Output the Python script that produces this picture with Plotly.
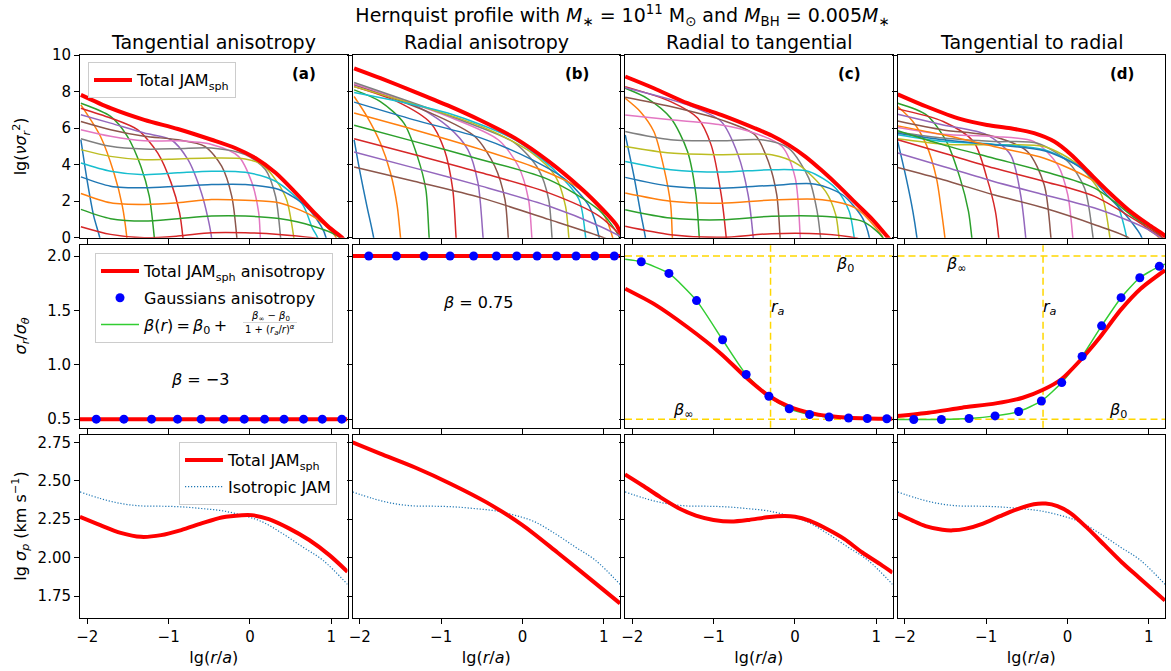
import plotly.graph_objects as go
from plotly.subplots import make_subplots

# ---------------- text ----------------
COL_TITLES = ["Tangential anisotropy", "Radial anisotropy",
              "Radial to tangential", "Tangential to radial"]
PANEL_TAGS = ["(a)", "(b)", "(c)", "(d)"]
MPL_CYCLE = ['#1f77b4', '#ff7f0e', '#2ca02c', '#d62728', '#9467bd',
             '#8c564b', '#e377c2', '#7f7f7f', '#bcbd22', '#17becf']

X_RANGE = [-2.09, 1.2]
X_TICKS = [-2, -1, 0, 1]
TOP_RANGE = [0, 10]
TOP_TICKS = [0, 2, 4, 6, 8, 10]
MID_RANGE = [0.42, 2.1]
MID_TICKS = [0.5, 1.0, 1.5, 2.0]
BOT_RANGE = [1.607, 2.795]
BOT_TICKS = [1.75, 2.0, 2.25, 2.5, 2.75]

# ---------------- top row: lg(nu sigma_r^2) of each Gaussian + total ----------------
A_COMP_X = [
    [-2.079, -2.004, -1.921, -1.847, -1.82],
    [-2.079, -1.839, -1.673, -1.569, -1.516, -1.50],
    [-2.079, -1.714, -1.507, -1.342, -1.238, -1.176, -1.16],
    [-2.079, -1.714, -1.383, -1.135, -0.969, -0.865, -0.824, -0.81],
    [-2.079, -1.714, -1.30, -0.969, -0.762, -0.596, -0.513, -0.472, -0.46],
    [-2.079, -1.714, -1.30, -0.886, -0.555, -0.348, -0.224, -0.161, -0.15],
    [-2.079, -1.714, -1.30, -0.886, -0.472, -0.141, 0.025, 0.108, 0.128, 0.14],
    [-2.079, -1.714, -1.30, -0.886, -0.472, -0.058, 0.19, 0.315, 0.377, 0.39],
    [-2.079, -1.714, -1.30, -0.886, -0.472, -0.058, 0.149, 0.315, 0.45, 0.54, 0.56],
    [-2.079, -1.714, -1.30, -0.886, -0.472, -0.058, 0.315, 0.646, 0.77, 0.832, 0.85],
    [-2.079, -1.714, -1.30, -0.886, -0.472, -0.058, 0.356, 0.687, 0.874, 0.936, 0.95],
    [-2.079, -1.714, -1.30, -0.886, -0.472, -0.058, 0.356, 0.77, 0.977, 1.06, 1.08],
    [-2.079, -1.714, -1.30, -0.886, -0.472, -0.058, 0.356, 0.77, 1.101, 1.13],
    [-2.079, -1.714, -1.30, -0.886, -0.472, -0.058, 0.356, 0.77, 1.143],
]
A_COMP_Y = [
    [5.36, 3.18, 1.18, 0, -0.8],
    [7.27, 5.55, 3.55, 1.73, 0.09, -0.8],
    [7.36, 6.64, 5.55, 3.91, 2.27, 0, -0.8],
    [7.09, 6.55, 5.91, 4.64, 3.0, 1.36, 0, -0.8],
    [6.73, 6.27, 5.73, 5.36, 4.27, 2.45, 1.0, 0, -0.8],
    [6.36, 5.91, 5.55, 5.36, 5.0, 3.91, 2.27, 0, -0.8],
    [5.91, 5.55, 5.3, 5.3, 5.1, 4.45, 3.0, 1.36, 0, -0.8],
    [5.42, 5.0, 4.85, 4.87, 4.91, 4.55, 3.73, 2.27, 0, -0.8],
    [4.82, 4.45, 4.27, 4.31, 4.36, 4.31, 4.0, 3.18, 2.09, 0, -0.8],
    [4.09, 3.64, 3.45, 3.55, 3.64, 3.58, 3.09, 1.82, 0.5, 0, -0.8],
    [3.33, 2.82, 2.73, 2.82, 2.91, 2.91, 2.64, 1.73, 0.64, 0, -0.8],
    [2.42, 1.91, 1.82, 1.91, 2.09, 2.05, 1.91, 1.18, 0.45, 0, -0.8],
    [1.55, 1.04, 0.91, 1.04, 1.18, 1.18, 1.05, 0.64, 0, -0.8],
    [0.6, 0.18, 0.0, 0.09, 0.27, 0.27, 0.18, 0.0, -0.27],
]
A_TOT_X = [-2.079, -1.714, -1.30, -0.886, -0.472, -0.182, 0.066, 0.315, 0.563, 0.812, 0.977, 1.143, 1.2]
A_TOT_Y = [7.82, 7.09, 6.45, 5.95, 5.36, 4.91, 4.36, 3.55, 2.45, 1.27, 0.55, -0.04, -0.6]

B_COMP_X = [
    [-2.07, -1.996, -1.913, -1.83, -1.81],
    [-2.07, -1.913, -1.747, -1.623, -1.54, -1.499, -1.48],
    [-2.07, -1.747, -1.458, -1.292, -1.188, -1.147, -1.13],
    [-2.07, -1.54, -1.126, -0.961, -0.857, -0.816, -0.80],
    [-2.07, -1.333, -0.919, -0.671, -0.547, -0.484, -0.47],
    [-2.07, -1.126, -0.588, -0.34, -0.215, -0.174, -0.16],
    [-2.07, -0.919, -0.298, -0.05, 0.075, 0.116, 0.13],
    [-2.07, -0.712, -0.091, 0.199, 0.323, 0.364, 0.38],
    [-2.07, -0.505, 0.116, 0.406, 0.53, 0.571, 0.59],
    [-2.07, -0.919, -0.091, 0.406, 0.696, 0.778, 0.80],
    [-2.07, -1.333, -0.505, 0.116, 0.53, 0.82, 0.944, 0.96],
    [-2.07, -1.333, -0.505, 0.116, 0.654, 0.986, 1.11, 1.13],
    [-2.07, -1.333, -0.505, 0.323, 0.944, 1.193, 1.21],
    [-2.07, -1.333, -0.505, 0.323, 0.944, 1.234],
    [-2.07, -1.333, -0.505, 0.323, 0.944, 1.275],
    [-2.07, -1.333, -0.505, 0.323, 0.944, 1.151],
]
B_COMP_Y = [
    [5.36, 3.55, 1.73, 0, -0.8],
    [7.73, 6.64, 5.18, 3.55, 1.73, 0, -0.8],
    [8.09, 7.45, 6.27, 4.45, 2.64, 0, -0.8],
    [8.27, 7.45, 6.27, 4.82, 2.64, 0, -0.8],
    [8.36, 7.27, 6.09, 4.82, 3.0, 0, -0.8],
    [8.40, 6.82, 5.55, 3.91, 2.09, 0, -0.8],
    [8.42, 6.64, 5.36, 3.91, 2.09, 0, -0.8],
    [8.49, 6.36, 5.18, 3.73, 2.09, 0, -0.8],
    [8.27, 6.09, 4.64, 3.36, 1.73, 0, -0.8],
    [7.95, 6.82, 5.36, 3.64, 2.09, 0, -0.8],
    [7.42, 6.45, 5.45, 4.27, 3.18, 1.73, 0, -0.8],
    [6.82, 5.91, 4.82, 3.91, 2.82, 1.36, 0, -0.8],
    [6.15, 5.27, 4.27, 3.18, 1.5, 0, -0.8],
    [5.42, 4.55, 3.55, 2.45, 1.18, 0],
    [4.69, 3.82, 2.82, 1.73, 0.64, -0.09],
    [3.87, 3.09, 2.18, 1.0, 0.09, -0.27],
]
B_TOT_X = [-2.07, -1.747, -1.333, -0.919, -0.505, -0.091, 0.323, 0.737, 0.986, 1.151, 1.2, 1.275]
B_TOT_Y = [9.27, 8.73, 8.0, 7.24, 6.4, 5.45, 4.18, 2.64, 1.55, 0.73, 0.35, 0.0]

C_COMP_X = [
    [-2.087, -1.983, -1.901, -1.839, -1.82],
    [-2.087, -1.901, -1.735, -1.611, -1.528, -1.507, -1.49],
    [-2.087, -1.818, -1.528, -1.321, -1.217, -1.176, -1.16],
    [-2.087, -1.528, -1.197, -1.031, -0.907, -0.845, -0.83],
    [-2.087, -1.321, -0.907, -0.70, -0.576, -0.513, -0.50],
    [-2.087, -1.528, -0.907, -0.493, -0.327, -0.224, -0.182, -0.17],
    [-2.087, -1.528, -0.907, -0.493, -0.161, 0.004, 0.066, 0.08],
    [-2.087, -1.528, -0.907, -0.41, -0.079, 0.17, 0.273, 0.315, 0.33],
    [-2.087, -1.528, -0.907, -0.286, 0.046, 0.377, 0.501, 0.542, 0.56],
    [-2.087, -1.528, -0.907, -0.286, 0.17, 0.501, 0.667, 0.729, 0.75],
    [-2.087, -1.528, -0.907, -0.286, 0.253, 0.584, 0.832, 0.915, 0.93],
    [-2.087, -1.528, -0.907, -0.286, 0.335, 0.749, 0.998, 1.081, 1.10],
    [-2.087, -1.528, -0.907, -0.286, 0.335, 0.832, 1.081, 1.10],
    [-2.087, -1.528, -0.907, -0.286, 0.335, 0.749, 0.95],
]
C_COMP_Y = [
    [5.63, 3.44, 1.44, 0, -0.8],
    [7.63, 6.9, 5.81, 3.81, 1.8, 0, -0.8],
    [8.18, 7.63, 6.55, 4.72, 2.35, 0, -0.8],
    [8.27, 7.45, 6.55, 5.08, 2.35, 0, -0.8],
    [8.21, 7.27, 6.36, 4.54, 2.35, 0, -0.8],
    [7.69, 7.18, 6.45, 5.63, 4.17, 2.35, 0, -0.8],
    [6.72, 6.45, 6.17, 5.72, 5.0, 3.26, 0, -0.8],
    [5.81, 5.36, 5.3, 5.36, 4.9, 3.26, 1.44, 0, -0.8],
    [4.99, 4.63, 4.54, 4.54, 3.99, 2.53, 1.26, 0, -0.8],
    [4.17, 3.72, 3.59, 3.72, 3.62, 2.71, 1.44, 0, -0.8],
    [3.3, 2.81, 2.71, 2.86, 2.93, 2.35, 1.07, 0, -0.8],
    [2.44, 1.99, 1.89, 2.06, 2.08, 1.62, 0.53, 0, -0.8],
    [1.53, 1.07, 0.98, 1.17, 1.17, 0.89, 0, -0.5],
    [0.62, 0.16, 0.02, 0.22, 0.2, -0.02, -0.3],
]
C_TOT_X = [-2.087, -1.735, -1.321, -0.907, -0.493, -0.286, -0.079, 0.128, 0.335, 0.542, 0.749, 0.957, 1.143, 1.2]
C_TOT_Y = [8.82, 8.18, 7.36, 6.72, 5.99, 5.59, 5.08, 4.44, 3.66, 2.81, 1.89, 0.98, 0.02, -0.3]

D_COMP_X = [
    [-2.087, -1.983, -1.901, -1.851, -1.83],
    [-2.087, -1.901, -1.735, -1.611, -1.549, -1.507, -1.49],
    [-2.087, -1.735, -1.487, -1.321, -1.217, -1.176, -1.16],
    [-2.087, -1.528, -1.155, -0.99, -0.886, -0.845, -0.83],
    [-2.087, -1.528, -0.99, -0.70, -0.576, -0.513, -0.50],
    [-2.087, -1.528, -0.907, -0.493, -0.286, -0.203, -0.19],
    [-2.087, -1.528, -0.907, -0.41, -0.12, 0.004, 0.066, 0.08],
    [-2.087, -1.528, -0.907, -0.369, 0.004, 0.211, 0.315, 0.33],
    [-2.087, -1.528, -0.907, -0.286, 0.128, 0.418, 0.522, 0.54],
    [-2.087, -1.528, -0.907, -0.286, 0.211, 0.584, 0.729, 0.75],
    [-2.087, -1.528, -0.907, -0.286, 0.17, 0.501, 0.749, 0.915, 0.93],
    [-2.087, -1.528, -0.907, -0.286, 0.335, 0.749, 0.998, 1.122, 1.14],
    [-2.087, -1.528, -0.907, -0.286, 0.335, 0.832, 1.164, 1.18],
    [-2.087, -1.528, -0.907, -0.286, 0.335, 0.957, 1.205],
    [-2.087, -1.528, -0.907, -0.286, 0.335, 0.957, 1.205],
    [-2.087, -1.528, -0.907, -0.286, 0.335, 0.749, 0.80],
]
D_COMP_Y = [
    [5.26, 3.26, 1.44, 0, -0.8],
    [7.18, 6.36, 5.08, 3.26, 1.44, 0, -0.8],
    [7.36, 6.72, 5.26, 3.26, 1.44, 0, -0.8],
    [7.05, 6.36, 5.26, 3.26, 1.44, 0, -0.8],
    [6.76, 6.17, 5.63, 4.54, 2.35, 0, -0.8],
    [6.39, 5.9, 5.54, 4.72, 2.9, 0, -0.8],
    [6.03, 5.66, 5.54, 5.26, 3.99, 2.35, 0, -0.8],
    [5.77, 5.45, 5.26, 5.17, 4.17, 2.71, 0, -0.8],
    [5.41, 5.12, 5.08, 4.99, 3.99, 2.35, 0, -0.8],
    [5.63, 5.26, 5.12, 4.81, 3.72, 2.08, 0, -0.8],
    [5.72, 5.36, 5.08, 4.76, 3.81, 2.26, 1.07, 0, -0.8],
    [6.12, 5.63, 4.99, 4.35, 3.08, 1.44, 0.44, 0, -0.8],
    [5.85, 5.08, 4.35, 3.62, 2.71, 1.07, 0, -0.8],
    [5.36, 4.63, 3.81, 3.08, 2.26, 0.62, -0.1],
    [4.63, 3.9, 3.08, 2.35, 1.62, 0.53, -0.2],
    [3.84, 3.17, 2.35, 1.62, 0.71, 0, -0.3],
]
D_TOT_X = [-2.087, -1.735, -1.321, -0.99, -0.70, -0.41, -0.162, 0.046, 0.253, 0.50, 0.749, 0.998, 1.205, 1.25]
D_TOT_Y = [7.85, 7.18, 6.50, 6.17, 5.99, 5.72, 5.26, 4.54, 3.62, 2.53, 1.53, 0.71, 0.07, -0.3]

# ---------------- middle row: sigma_r / sigma_theta ----------------
GAUSS_X = [-1.89, -1.55, -1.21, -0.89, -0.60, -0.32, -0.07, 0.18, 0.42, 0.66, 0.89, 1.13]
A_GAUSS_Y = [0.5] * 12
B_GAUSS_Y = [2.0] * 12
C_GAUSS_Y = [1.947, 1.84, 1.59, 1.23, 0.91, 0.71, 0.595, 0.543, 0.52, 0.51, 0.506, 0.503]
D_GAUSS_Y = [0.497, 0.497, 0.506, 0.53, 0.57, 0.667, 0.836, 1.077, 1.358, 1.617, 1.80, 1.905]

A_JAM_X = [-2.09, 1.2]
A_JAM_Y = [0.5, 0.5]
B_JAM_X = [-2.09, 1.2]
B_JAM_Y = [2.0, 2.0]
C_JAM_X = [-2.087, -1.735, -1.32, -0.907, -0.596, -0.32, -0.066, 0.183, 0.42, 0.66, 0.90, 1.16, 1.2]
C_JAM_Y = [1.70, 1.56, 1.345, 1.10, 0.88, 0.713, 0.614, 0.558, 0.528, 0.512, 0.506, 0.503, 0.503]
D_JAM_X = [-2.09, -1.71, -1.296, -0.882, -0.55, -0.30, -0.075, 0.153, 0.40, 0.65, 0.90, 1.2]
D_JAM_Y = [0.528, 0.558, 0.605, 0.645, 0.697, 0.77, 0.867, 1.037, 1.253, 1.50, 1.70, 1.87]

A_FIT_X = [-2.09, 1.2]
A_FIT_Y = [0.5, 0.5]
B_FIT_X = [-2.09, 1.2]
B_FIT_Y = [2.0, 2.0]
C_FIT_X = [-2.087] + GAUSS_X + [1.2]
C_FIT_Y = [1.97] + C_GAUSS_Y + [0.502]
D_FIT_X = [-2.087] + GAUSS_X + [1.2]
D_FIT_Y = [0.497] + D_GAUSS_Y + [1.925]

RATIO_0_C, RATIO_INF_C = 2.0, 0.5
RATIO_0_D, RATIO_INF_D = 0.5, 2.0
LG_RA = -0.3

# ---------------- bottom row: lg sigma_p ----------------
ISO_X = [-2.09, -1.84, -1.59, -1.34, -1.093, -0.845, -0.596, -0.348, -0.099, 0.149, 0.398, 0.646, 0.894, 1.2]
ISO_Y = [2.427, 2.384, 2.352, 2.336, 2.334, 2.33, 2.319, 2.305, 2.276, 2.233, 2.157, 2.07, 1.984, 1.826]
A_SIGP_X = [-2.09, -1.84, -1.59, -1.34, -1.093, -0.845, -0.596, -0.348, -0.099, 0.025, 0.232, 0.48, 0.729, 0.977, 1.2]
A_SIGP_Y = [2.265, 2.211, 2.161, 2.135, 2.146, 2.179, 2.222, 2.261, 2.276, 2.276, 2.25, 2.19, 2.114, 2.016, 1.908]
B_SIGP_X = [-2.09, -1.75, -1.313, -0.879, -0.441, 0.0, 0.43, 0.865, 1.2]
B_SIGP_Y = [2.75, 2.676, 2.584, 2.479, 2.359, 2.211, 2.033, 1.847, 1.702]
C_SIGP_X = [-2.09, -1.873, -1.656, -1.435, -1.218, -1.001, -0.784, -0.563, -0.346, -0.129, 0.002, 0.177, 0.394, 0.611, 0.828, 1.049, 1.2]
C_SIGP_Y = [2.541, 2.469, 2.393, 2.323, 2.273, 2.245, 2.234, 2.245, 2.262, 2.271, 2.266, 2.24, 2.186, 2.12, 2.033, 1.957, 1.902]
D_SIGP_X = [-2.09, -1.911, -1.745, -1.537, -1.412, -1.246, -1.038, -0.830, -0.622, -0.414, -0.268, -0.123, 0.045, 0.252, 0.46, 0.668, 0.875, 1.2]
D_SIGP_Y = [2.286, 2.242, 2.205, 2.181, 2.177, 2.188, 2.221, 2.269, 2.314, 2.347, 2.351, 2.334, 2.286, 2.188, 2.079, 1.97, 1.872, 1.72]

Y_TITLES = ["lg(<i>νσ<sub>r</sub></i><sup>2</sup>)",
            "<i>σ<sub>r</sub></i>/<i>σ<sub>θ</sub></i>",
            "lg <i>σ<sub>p</sub></i> (km s<sup>−1</sup>)"]
X_TITLE = "lg(<i>r</i>/<i>a</i>)"

FONT = "DejaVu Sans"
W, H = 1171, 671
ML, MR, MT, MB = 80, 6, 55, 53
PW, PH = W - ML - MR, H - MT - MB

fig = make_subplots(rows=3, cols=4, shared_xaxes=True, shared_yaxes=True,
                    horizontal_spacing=5 / PW, vertical_spacing=7.5 / PH,
                    subplot_titles=COL_TITLES)

TOTAL_NAME = "Total JAM<sub>sph</sub>"

# top row
TOP = [(A_COMP_X, A_COMP_Y, A_TOT_X, A_TOT_Y), (B_COMP_X, B_COMP_Y, B_TOT_X, B_TOT_Y),
       (C_COMP_X, C_COMP_Y, C_TOT_X, C_TOT_Y), (D_COMP_X, D_COMP_Y, D_TOT_X, D_TOT_Y)]
for c, (cx, cy, tx, ty) in enumerate(TOP, start=1):
    for i, (xs, ys) in enumerate(zip(cx, cy)):
        fig.add_trace(go.Scatter(x=xs, y=ys, mode="lines",
                                 line=dict(color=MPL_CYCLE[i % 10], width=1.5, shape="spline", smoothing=0.8),
                                 showlegend=False, hoverinfo="skip"), row=1, col=c)
    fig.add_trace(go.Scatter(x=tx, y=ty, mode="lines", name=TOTAL_NAME,
                             line=dict(color="red", width=4, shape="spline", smoothing=0.8),
                             showlegend=(c == 1), legend="legend"), row=1, col=c)

# middle row
FIT_NAME = "<i>β</i>(<i>r</i>)\u2009=\u2009<i>β</i><sub>0</sub>\u2009+"
MID = [(A_FIT_X, A_FIT_Y, A_JAM_X, A_JAM_Y, A_GAUSS_Y), (B_FIT_X, B_FIT_Y, B_JAM_X, B_JAM_Y, B_GAUSS_Y),
       (C_FIT_X, C_FIT_Y, C_JAM_X, C_JAM_Y, C_GAUSS_Y), (D_FIT_X, D_FIT_Y, D_JAM_X, D_JAM_Y, D_GAUSS_Y)]
for c, (fx, fy, jx, jy, gy) in enumerate(MID, start=1):
    first = (c == 1)
    fig.add_trace(go.Scatter(x=fx, y=fy, mode="lines", name=FIT_NAME, legend="legend2",
                             legendrank=3, legendgroup="g3",
                             line=dict(color="limegreen", width=1.5, shape="spline", smoothing=0.6),
                             showlegend=first), row=2, col=c)
    fig.add_trace(go.Scatter(x=jx, y=jy, mode="lines", name=TOTAL_NAME + " anisotropy", legend="legend2",
                             legendrank=1, legendgroup="g1",
                             line=dict(color="red", width=4, shape="spline", smoothing=0.6),
                             showlegend=first), row=2, col=c)
    fig.add_trace(go.Scatter(x=GAUSS_X, y=gy, mode="markers", name="Gaussians anisotropy", legend="legend2",
                             legendrank=2, legendgroup="g2",
                             marker=dict(color="blue", size=9),
                             showlegend=first), row=2, col=c)

# dashed guide lines
GOLD = dict(color="#FFD700", width=1.5, dash="7px,4px")
for c, (r0, rinf) in ((3, (RATIO_0_C, RATIO_INF_C)), (4, (RATIO_0_D, RATIO_INF_D))):
    fig.add_hline(y=r0, line=GOLD, row=2, col=c, layer="below")
    fig.add_hline(y=rinf, line=GOLD, row=2, col=c, layer="below")
    fig.add_vline(x=LG_RA, line=GOLD, row=2, col=c, layer="below")

# bottom row
BOT = [(A_SIGP_X, A_SIGP_Y), (B_SIGP_X, B_SIGP_Y), (C_SIGP_X, C_SIGP_Y), (D_SIGP_X, D_SIGP_Y)]
for c, (sx, sy) in enumerate(BOT, start=1):
    first = (c == 1)
    fig.add_trace(go.Scatter(x=ISO_X, y=ISO_Y, mode="lines", name="Isotropic JAM", legend="legend3",
                             legendrank=2, legendgroup="h2",
                             line=dict(color="#1f77b4", width=1.2, dash="1.2px,1.8px", shape="spline"),
                             showlegend=first), row=3, col=c)
    fig.add_trace(go.Scatter(x=sx, y=sy, mode="lines", name=TOTAL_NAME, legend="legend3",
                             legendrank=1, legendgroup="h1",
                             line=dict(color="red", width=4, shape="spline", smoothing=0.8),
                             showlegend=first), row=3, col=c)

# axes
AX = dict(showline=True, mirror=True, linecolor="black", linewidth=1, ticks="outside",
          ticklen=5, tickcolor="black", showgrid=False, zeroline=False,
          tickfont=dict(size=15, color="black", family=FONT))
for r in (1, 2, 3):
    for c in (1, 2, 3, 4):
        fig.update_xaxes(range=X_RANGE, tickvals=X_TICKS, row=r, col=c, **AX)
    fig.update_yaxes(row=r, **AX)
fig.update_yaxes(range=TOP_RANGE, tickvals=TOP_TICKS, row=1)
fig.update_yaxes(range=MID_RANGE, tickvals=MID_TICKS, tickformat=".1f", row=2)
fig.update_yaxes(range=BOT_RANGE, tickvals=BOT_TICKS, tickformat=".2f", row=3)

TF = dict(size=16, color="black", family=FONT)
for c in (1, 2, 3, 4):
    fig.update_xaxes(title=dict(text=X_TITLE, font=TF, standoff=6), row=3, col=c)

# subplot titles
for ann in fig.layout.annotations:
    ann.font = dict(size=19, color="black", family=FONT)
    ann.yshift = 0

# y-axis titles as rotated annotations (matplotlib places them at a fixed offset)
for r, txt in enumerate(Y_TITLES, start=1):
    yref = "y" if r == 1 else "y%d" % (4 * (r - 1) + 1)
    fig.add_annotation(xref="paper", yref=yref + " domain", x=(21 - ML) / PW, y=0.5,
                       text=txt, textangle=-90, showarrow=False, xanchor="center", yanchor="middle",
                       font=TF)

# panel tags and labels
for c, tag in enumerate(PANEL_TAGS, start=1):
    fig.add_annotation(x=0.67, y=8.95, text="<b>" + tag + "</b>", showarrow=False,
                       font=dict(size=15, color="black", family=FONT), row=1, col=c)
LBL = dict(size=16, color="black", family=FONT)
fig.add_annotation(x=-0.62, y=0.86, text="<i>β</i> = −3", showarrow=False, font=LBL, row=2, col=1)
fig.add_annotation(x=-0.55, y=1.57, text="<i>β</i> = 0.75", showarrow=False, font=LBL, row=2, col=2)
fig.add_annotation(x=0.62, y=1.92, text="<i>β</i><sub>0</sub>", showarrow=False, font=LBL, row=2, col=3)
fig.add_annotation(x=-1.37, y=0.58, text="<i>β</i><sub>∞</sub>", showarrow=False, font=LBL, row=2, col=3)
fig.add_annotation(x=-0.21, y=1.53, text="<i>r<sub>a</sub></i>", showarrow=False, font=LBL, row=2, col=3)
fig.add_annotation(x=-1.37, y=1.92, text="<i>β</i><sub>∞</sub>", showarrow=False, font=LBL, row=2, col=4)
fig.add_annotation(x=0.62, y=0.575, text="<i>β</i><sub>0</sub>", showarrow=False, font=LBL, row=2, col=4)
fig.add_annotation(x=-0.21, y=1.53, text="<i>r<sub>a</sub></i>", showarrow=False, font=LBL, row=2, col=4)

# stacked fraction of the legend formula (page px -> paper coords)
def px2paper(px, py):
    return (px - ML) / PW, (H - MB - py) / PH

FR = dict(size=10, color="black", family=FONT)
nx, ny = px2paper(270, 316)
fig.add_annotation(xref="paper", yref="paper", x=nx, y=ny, xanchor="center", yanchor="middle",
                   showarrow=False, font=FR, text="<i>β</i><sub>∞</sub> − <i>β</i><sub>0</sub>")
dx, dy = px2paper(270, 330)
fig.add_annotation(xref="paper", yref="paper", x=dx, y=dy, xanchor="center", yanchor="middle",
                   showarrow=False, font=FR, text="1 + (<i>r<sub>a</sub></i>/<i>r</i>)<sup><i>α</i></sup>")
bx0, by = px2paper(243, 322.5)
bx1, _ = px2paper(297, 322.5)
fig.add_shape(type="line", xref="paper", yref="paper", x0=bx0, x1=bx1, y0=by, y1=by,
              line=dict(color="black", width=0.8))

LEG = dict(bgcolor="rgba(255,255,255,0.8)", bordercolor="#cccccc", borderwidth=1,
           font=dict(size=16, color="black", family=FONT), yanchor="top",
           itemwidth=38, tracegroupgap=3)
l1x, l1y = px2paper(88, 62)
l2x, l2y = px2paper(95, 253)
l3x, l3y = px2paper(337, 442)

fig.update_layout(
    width=W, height=H, margin=dict(l=ML, r=MR, t=MT, b=MB),
    paper_bgcolor="white", plot_bgcolor="white",
    font=dict(family=FONT, color="black"),
    title=dict(text="Hernquist profile with <i>M</i><sub>∗</sub> = 10<sup>11</sup> M<sub>⊙</sub> and "
                    "<i>M</i><sub>BH</sub> = 0.005<i>M</i><sub>∗</sub>",
               x=0.5, xref="paper", xanchor="center", y=1 - 15 / H, yref="container", yanchor="middle",
               font=dict(size=19, color="black", family=FONT)),
    legend=dict(x=l1x, y=l1y, xanchor="left", **LEG),
    legend2=dict(x=l2x, y=l2y, xanchor="left", **LEG),
    legend3=dict(x=l3x, y=l3y, xanchor="right", **LEG),
)

# remove the default 8 px page margin so the figure fills the window exactly; hide the mode bar
fig.write_html("out.html", config={"displayModeBar": False},
               post_script="document.body.style.margin='0px';")
